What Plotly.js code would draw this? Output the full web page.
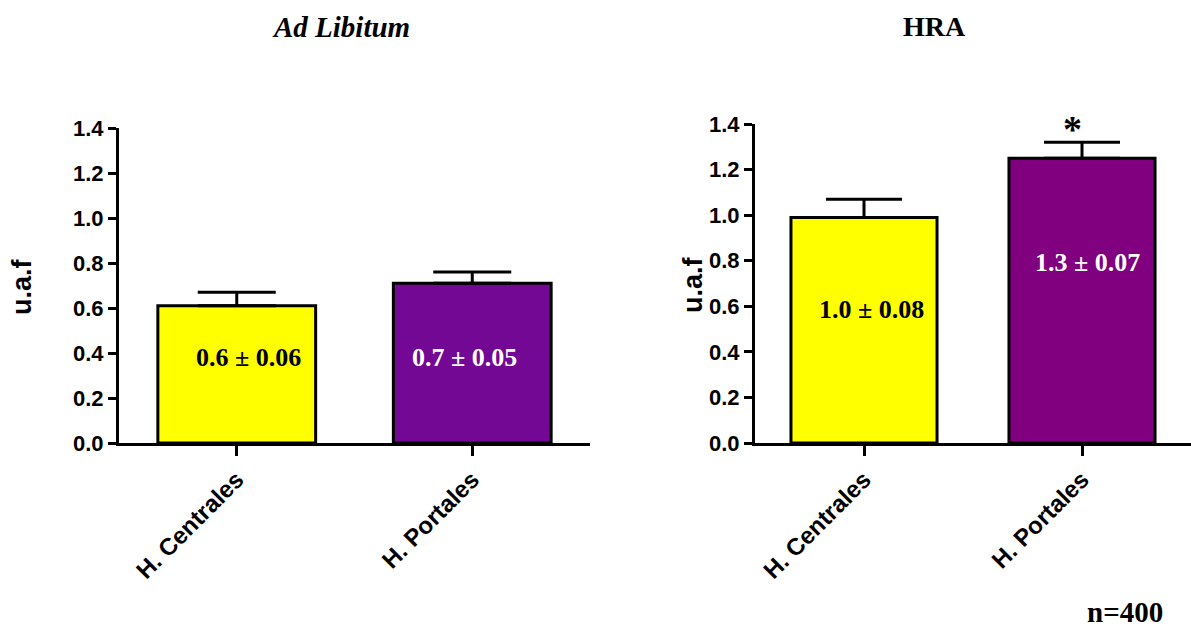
<!DOCTYPE html>
<html>
<head>
<meta charset="utf-8">
<script src="https://cdn.plot.ly/plotly-3.0.1.min.js"></script>
<style>
  html, body { margin: 0; padding: 0; background: #fff; }
  #chart { width: 1191px; height: 629px; }
</style>
</head>
<body>
<div id="chart"></div>
<script>
// Hepatocyte groups and fluorescence (u.a.f) means with their SEM
const categories = ['H. Centrales', 'H. Portales'];
const adLibMean = [0.61, 0.71];
const adLibSem = [0.06, 0.05];
const hraMean = [0.99, 1.25];
const hraSem = [0.08, 0.07];
const yTicks = [0, 0.2, 0.4, 0.6, 0.8, 1.0, 1.2, 1.4];
const panelTitles = ['Ad Libitum', 'HRA'];
const yTitle = 'u.a.f';
const sampleNote = 'n=400';

const YELLOW = '#ffff00';
const PURPLE_A = '#730895';
const PURPLE_B = '#800080';
const SANS = 'Arial, "Liberation Sans", sans-serif';
const SERIF = '"Times New Roman", "Liberation Serif", serif';

function barTrace(means, sems, colors, xa, ya, capHalf) {
  return {
    type: 'bar',
    x: categories,
    y: means,
    xaxis: xa,
    yaxis: ya,
    width: 0.67,
    marker: { color: colors, line: { color: '#000', width: 3 } },
    error_y: {
      type: 'data', symmetric: false,
      array: sems, arrayminus: sems.map(() => 0),
      color: '#000', thickness: 3, width: capHalf
    },
    hoverinfo: 'skip',
    showlegend: false
  };
}

const traces = [
  barTrace(adLibMean, adLibSem, [YELLOW, PURPLE_A], 'x', 'y', 39),
  barTrace(hraMean, hraSem, [YELLOW, PURPLE_B], 'x2', 'y2', 38)
];

function xAxis(domain, anchor) {
  return {
    domain: domain, anchor: anchor, range: [-0.5, 1.5],
    showline: true, linewidth: 3, linecolor: '#000',
    ticks: 'outside', ticklen: 10, tickwidth: 3, tickcolor: '#000',
    tickangle: -45, showgrid: false, zeroline: false,
    tickfont: { family: SANS, size: 24, color: '#000', weight: 'bold' }
  };
}
function yAxis(domain, anchor) {
  return {
    domain: domain, anchor: anchor, range: [0, 1.4],
    tickvals: yTicks, tickformat: '.1f',
    showline: true, linewidth: 3, linecolor: '#000',
    ticks: 'outside', ticklen: 8, tickwidth: 3, tickcolor: '#000',
    showgrid: false, zeroline: false,
    tickfont: { family: SANS, size: 22, color: '#000', weight: 'bold' }
  };
}

function valueLabel(i, means, sems, xa, ya, yPos, xshift, color) {
  return {
    xref: xa, yref: ya, x: categories[i], y: yPos, xshift: xshift,
    text: means[i].toFixed(1) + ' ± ' + sems[i].toFixed(2),
    showarrow: false, xanchor: 'center', yanchor: 'middle',
    font: { family: SERIF, size: 26, color: color, weight: 'bold' }
  };
}

const annotations = [
  // panel headings
  { xref: 'paper', yref: 'paper', x: 341 / 1191, y: 1 - 27 / 629, text: panelTitles[0],
    showarrow: false, xanchor: 'center', yanchor: 'middle',
    font: { family: SERIF, size: 29, color: '#000', weight: 'bold', style: 'italic' } },
  { xref: 'paper', yref: 'paper', x: 934 / 1191, y: 1 - 27 / 629, text: panelTitles[1],
    showarrow: false, xanchor: 'center', yanchor: 'middle',
    font: { family: SERIF, size: 28, color: '#000', weight: 'bold' } },
  // y titles
  { xref: 'paper', yref: 'paper', x: 22 / 1191, y: 1 - 287 / 629, text: yTitle, textangle: -90,
    showarrow: false, xanchor: 'center', yanchor: 'middle',
    font: { family: SANS, size: 27, color: '#000', weight: 'bold' } },
  { xref: 'paper', yref: 'paper', x: 693 / 1191, y: 1 - 285 / 629, text: yTitle, textangle: -90,
    showarrow: false, xanchor: 'center', yanchor: 'middle',
    font: { family: SANS, size: 27, color: '#000', weight: 'bold' } },
  // values inside the bars
  valueLabel(0, adLibMean, adLibSem, 'x', 'y', 0.38, 12, '#000'),
  valueLabel(1, adLibMean, adLibSem, 'x', 'y', 0.38, -8, '#fff'),
  valueLabel(0, hraMean, hraSem, 'x2', 'y2', 0.585, 7, '#000'),
  valueLabel(1, hraMean, hraSem, 'x2', 'y2', 0.79, 5, '#fff'),
  // significance mark
  { xref: 'x2', yref: 'y2', x: categories[1], y: hraMean[1] + hraSem[1], xshift: -10, yshift: -10,
    text: '*', showarrow: false, xanchor: 'center', yanchor: 'bottom',
    font: { family: SERIF, size: 38, color: '#000', weight: 'bold' } },
  // sample size
  { xref: 'paper', yref: 'paper', x: 1125 / 1191, y: 1 - 612 / 629, text: sampleNote,
    showarrow: false, xanchor: 'center', yanchor: 'middle',
    font: { family: SERIF, size: 29, color: '#000', weight: 'bold' } }
];

const layout = {
  width: 1191, height: 629,
  margin: { l: 0, r: 0, t: 0, b: 0 },
  paper_bgcolor: '#fff', plot_bgcolor: '#fff',
  showlegend: false,
  xaxis: xAxis([119 / 1191, 590 / 1191], 'y'),
  yaxis: yAxis([186 / 629, 501 / 629], 'x'),
  xaxis2: xAxis([755 / 1191, 1], 'y2'),
  yaxis2: yAxis([186 / 629, 505 / 629], 'x2'),
  annotations: annotations
};

Plotly.newPlot('chart', traces, layout, { staticPlot: true, displayModeBar: false });
</script>
</body>
</html>
